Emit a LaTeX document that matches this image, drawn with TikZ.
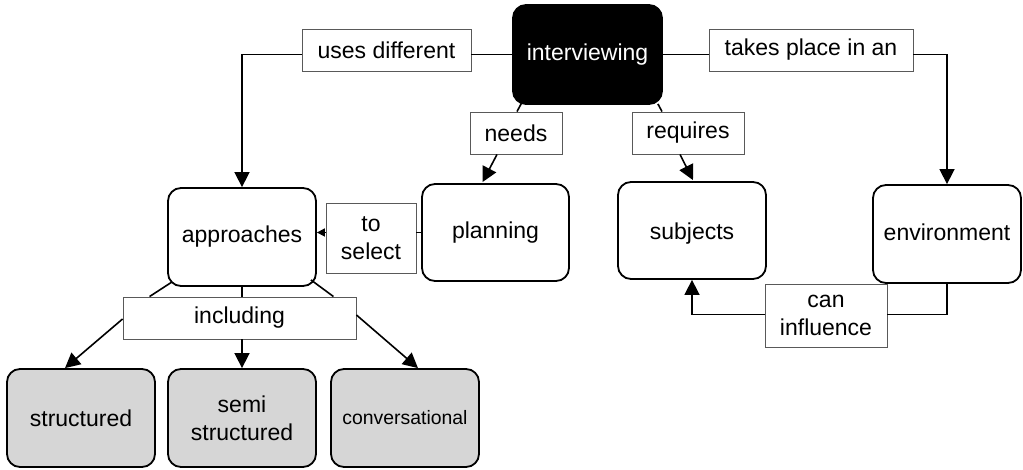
\documentclass[tikz,border=0pt]{standalone}
\usepackage{fontspec}
\setmainfont{Liberation Sans}
\usetikzlibrary{arrows.meta,calc}
\begin{document}
\begin{tikzpicture}[x=1pt,y=-1pt,
  concept/.style={draw=black,line width=1.8pt,rounded corners=13pt,minimum width=148pt,minimum height=98pt,align=center,inner sep=2pt,font=\fontsize{23}{28}\selectfont},
  leaf/.style={concept,fill=black!16},
  lbl/.style={draw=black!65,line width=0.9pt,fill=white,align=center,inner sep=2pt,font=\fontsize{23}{28}\selectfont},
  conn/.style={line width=1.6pt},
  arr/.style={conn,-{Triangle[length=15pt,width=15pt]}},
  sarr/.style={conn,-{Triangle[length=8pt,width=8pt]}}]
\useasboundingbox (0,0) rectangle (1023,470);
\node[concept,fill=black,text=white,minimum width=149pt,minimum height=99pt] (interviewing) at (587.5,54.5) {interviewing};
\node[lbl,minimum width=169pt,minimum height=42pt] (uses) at (386.5,50) {uses different};
\node[lbl,minimum width=204pt,minimum height=42pt] (takes) at (811,50) {takes place in an};
\node[lbl,minimum width=92pt,minimum height=42pt] (needs) at (516,133) {needs};
\node[lbl,minimum width=112pt,minimum height=42pt] (requires) at (688,133) {requires};
\node[concept] (approaches) at (242,237) {approaches};
\node[lbl,minimum width=90pt,minimum height=70pt] (toselect) at (371,238) {to\\select};
\node[concept,minimum width=147pt,minimum height=97pt] (planning) at (495.5,232.5) {planning};
\node[concept,minimum height=97pt] (subjects) at (692,230.5) {\raisebox{-3pt}[\height][\depth]{subjects}};
\node[concept] (environment) at (947,234) {\raisebox{2pt}[\height][\depth]{environment}};
\node[lbl,minimum width=122pt,minimum height=63pt] (caninfl) at (826,315.5) {can\\influence};
\node[lbl,minimum width=233pt,minimum height=42pt] (including) at (239.5,318) {including};
\node[leaf] (structured) at (81,418) {structured};
\node[leaf] (semi) at (242,418) {semi\\structured};
\node[leaf,font=\fontsize{19.4}{24}\selectfont] (conv) at (405,418) {conversational};
% interviewing -> approaches
\draw[conn] (interviewing.west) -- (interviewing.west -| uses.east);
\draw[arr] (uses.west |- interviewing.west) -| (approaches.north);
% interviewing -> environment
\draw[conn] (interviewing.east) -- (interviewing.east -| takes.west);
\draw[arr] (takes.east |- interviewing.east) -| (environment.north);
% needs
\draw[conn] ($(interviewing.south west)+(9,-1)$) -- ($(needs.north)+(1,0)$);
\draw[arr] ($(needs.south)+(-19,0)$) -- ($(planning.north)+(-13,-1)$);
% requires
\draw[conn] ($(interviewing.south east)+(-5,-1)$) -- ($(requires.north)+(-26,0)$);
\draw[arr] ($(requires.south)+(-8,0)$) -- ($(subjects.north)+(1,-1)$);
% to select
\draw[conn] (planning.west) -- (planning.west -| toselect.east);
\draw[sarr] (toselect.west |- planning.west) -- (planning.west -| approaches.east);
% can influence
\draw[conn] (environment.south) |- ($(caninfl.east)+(0,-1)$);
\draw[arr] ($(caninfl.west)+(0,-1)$) -| (subjects.south);
% including
\draw[conn] (approaches.south) -- (approaches.south |- including.north);
\draw[arr] (including.south -| semi.north) -- (semi.north);
\draw[conn] ($(approaches.south west)+(5,-5)$) -- ($(including.north west)+(27,0)$);
\draw[arr] ($(including.west)+(0,1)$) -- ($(structured.north)+(-16,0)$);
\draw[conn] ($(approaches.south east)+(-6,-7)$) -- ($(including.north east)+(-23,0)$);
\draw[arr] ($(including.east)+(0,-3)$) -- ($(conv.north)+(13,0)$);
\end{tikzpicture}
\end{document}
